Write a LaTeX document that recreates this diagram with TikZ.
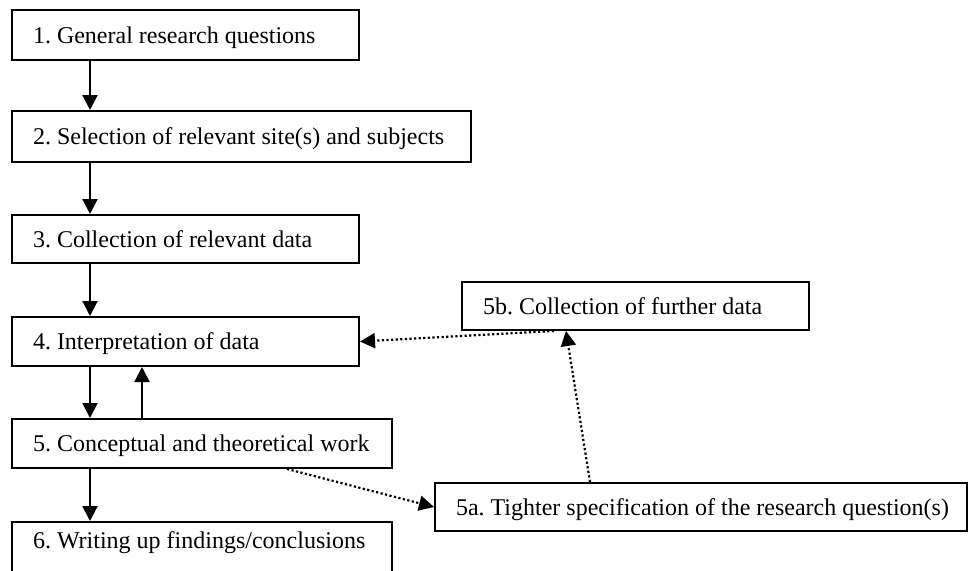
\documentclass[tikz,border=0pt]{standalone}
\usepackage{fontspec}
\setmainfont{Liberation Serif}
\usetikzlibrary{arrows.meta,calc}
\begin{document}
\frenchspacing
\begin{tikzpicture}[x=1pt,y=-1pt,
  stepbox/.style={draw, line width=2pt, inner xsep=21pt, inner ysep=0pt,
    anchor=north west, align=flush left, text height=19pt, text depth=3pt,
    font=\fontsize{24}{28}\selectfont},
  flow/.style={line width=2.2pt, -{Triangle[length=15pt,width=15pt]}},
  loopback/.style={line width=2.2pt, dash pattern=on 2.2pt off 2.4pt,
    -{Triangle[length=15pt,width=15pt]}}]
  \useasboundingbox (0,0) rectangle (968,570);
  \fill[white] (0,0) rectangle (968,570);

  % main sequence of stages
  \node[stepbox, text width=305pt, minimum height=50pt] (b1) at (11,9)
    {\mbox{1. General research questions}};
  \node[stepbox, text width=417pt, minimum height=51pt] (b2) at (11,110)
    {\mbox{2. Selection of relevant site(s) and subjects}};
  \node[stepbox, text width=305pt, minimum height=48pt] (b3) at (11,214)
    {\mbox{3. Collection of relevant data}};
  \node[stepbox, text width=305pt, minimum height=49pt] (b4) at (11,316)
    {\mbox{4. Interpretation of data}};
  \node[stepbox, text width=338pt, minimum height=49pt] (b5) at (11,418)
    {\mbox{5. Conceptual and theoretical work}};
  \node[stepbox, text width=338pt, minimum height=60pt, text depth=27pt] (b6) at (11,521)
    {\mbox{6. Writing up findings/conclusions}};

  % side loop
  \node[stepbox, text width=305pt, minimum height=48pt] (b5b) at (461,281)
    {\mbox{5b. Collection of further data}};
  \node[stepbox, text width=490pt, minimum height=48pt] (b5a) at (434,482)
    {\mbox{5a. Tighter specification of the research question(s)}};

  % columns for the vertical connectors
  \coordinate (down) at (90,0);
  \coordinate (up) at (142,0);

  \draw[flow] (b1.south -| down) -- (b2.north -| down);
  \draw[flow] (b2.south -| down) -- (b3.north -| down);
  \draw[flow] (b3.south -| down) -- (b4.north -| down);
  \draw[flow] (b4.south -| down) -- (b5.north -| down);
  \draw[flow] (b5.north -| up) -- (b4.south -| up);
  \draw[flow] (b5.south -| down) -- (b6.north -| down);

  % dotted feedback path
  \draw[loopback] ($(b5.south west)+(276,0)$) -- (b5a.west);
  \draw[loopback] ($(b5a.north west)+(156,0)$) -- ($(b5b.south west)+(105,0)$);
  \draw[loopback] ($(b5b.south west)+(93,0)$) -- (b4.east);
\end{tikzpicture}
\end{document}
